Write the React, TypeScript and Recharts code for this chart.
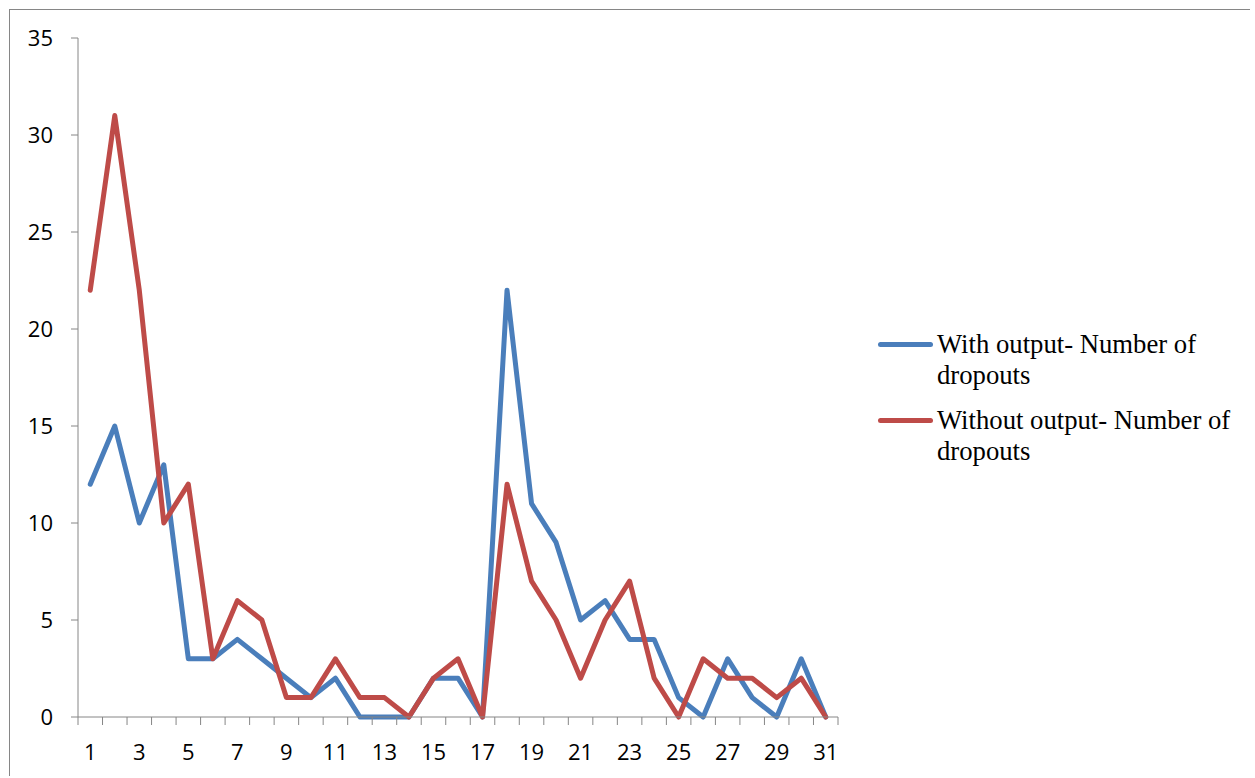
import { LineChart, Line, XAxis, YAxis, Legend } from "recharts";

// values
const days = [
  1, 2, 3, 4, 5, 6, 7, 8, 9, 10, 11, 12, 13, 14, 15, 16, 17, 18, 19, 20, 21,
  22, 23, 24, 25, 26, 27, 28, 29, 30, 31,
];
const withOutput = [
  12, 15, 10, 13, 3, 3, 4, 3, 2, 1, 2, 0, 0, 0, 2, 2, 0, 22, 11, 9, 5, 6, 4, 4,
  1, 0, 3, 1, 0, 3, 0,
];
const withoutOutput = [
  22, 31, 22, 10, 12, 3, 6, 5, 1, 1, 3, 1, 1, 0, 2, 3, 0, 12, 7, 5, 2, 5, 7, 2,
  0, 3, 2, 2, 1, 2, 0,
];
const xLabels = [1, 3, 5, 7, 9, 11, 13, 15, 17, 19, 21, 23, 25, 27, 29, 31];
const yTicks = [0, 5, 10, 15, 20, 25, 30, 35];

const seriesNames = [
  "With output- Number of dropouts",
  "Without output- Number of dropouts",
];

const data = days.map((d, i) => ({
  day: d,
  with: withOutput[i],
  without: withoutOutput[i],
}));

// tick marks sit between categories, like Excel
const edges = [...days.map((d) => d - 0.5), days[days.length - 1] + 0.5];

const axisColor = "#868686";
const blue = "#4A7EBB";
const red = "#BE4B48";
const tickFamily = "'Open Sans', sans-serif";

// tick at a category edge; label goes half a band to the right
function XTick(props: any) {
  const { x, y, payload, width } = props;
  const day = payload.value + 0.5;
  if (!xLabels.includes(day)) return null;
  const half = width / days.length / 2;
  return (
    <text
      x={x + half}
      y={y}
      dy={33}
      textAnchor="middle"
      fill="#000"
      fontSize={22}
      fontFamily={tickFamily}
    >
      {day}
    </text>
  );
}

function YTick(props: any) {
  const { x, y, payload } = props;
  return (
    <text
      x={x}
      y={y}
      dy="0.36em"
      textAnchor="end"
      fill="#000"
      fontSize={22}
      fontFamily={tickFamily}
    >
      {payload.value}
    </text>
  );
}

function LegendBox({ payload }: any) {
  return (
    <div style={{ fontFamily: "'Liberation Serif', 'Times New Roman', serif" }}>
      {(payload || []).map((p: any, i: number) => (
        <div
          key={i}
          style={{
            display: "flex",
            alignItems: "flex-start",
            marginBottom: 14,
          }}
        >
          <div
            style={{
              width: 55,
              height: 5,
              borderRadius: 3,
              background: p.color,
              marginTop: 13,
              flexShrink: 0,
            }}
          />
          <div
            style={{
              width: 300,
              marginLeft: 4,
              fontSize: 26.7,
              lineHeight: "31px",
              color: "#000",
            }}
          >
            {p.value}
          </div>
        </div>
      ))}
    </div>
  );
}

export default function App() {
  return (
    <div
      style={{
        position: "absolute",
        left: 9,
        top: 9,
        borderLeft: `1px solid ${axisColor}`,
        borderTop: `1px solid ${axisColor}`,
        background: "#fff",
      }}
    >
      <LineChart
        width={1240}
        height={766}
        data={data}
        margin={{ top: 28, right: 412, bottom: 9, left: 0 }}
      >
        <XAxis
          dataKey="day"
          type="number"
          domain={[0.5, 31.5]}
          ticks={edges}
          interval={0}
          tickSize={8}
          height={50}
          stroke={axisColor}
          tick={<XTick />}
        />
        <YAxis
          domain={[0, 35]}
          ticks={yTicks}
          interval={0}
          width={68}
          tickSize={7}
          tickMargin={18}
          stroke={axisColor}
          tick={<YTick />}
        />
        <Legend
          content={<LegendBox />}
          layout="horizontal"
          verticalAlign="middle"
          align="center"
          wrapperStyle={{ left: 868, top: 319, width: 372 }}
        />
        <Line
          type="linear"
          dataKey="with"
          name={seriesNames[0]}
          stroke={blue}
          strokeWidth={5}
          strokeLinejoin="round"
          strokeLinecap="round"
          dot={false}
          activeDot={false}
          isAnimationActive={false}
        />
        <Line
          type="linear"
          dataKey="without"
          name={seriesNames[1]}
          stroke={red}
          strokeWidth={5}
          strokeLinejoin="round"
          strokeLinecap="round"
          dot={false}
          activeDot={false}
          isAnimationActive={false}
        />
      </LineChart>
    </div>
  );
}
